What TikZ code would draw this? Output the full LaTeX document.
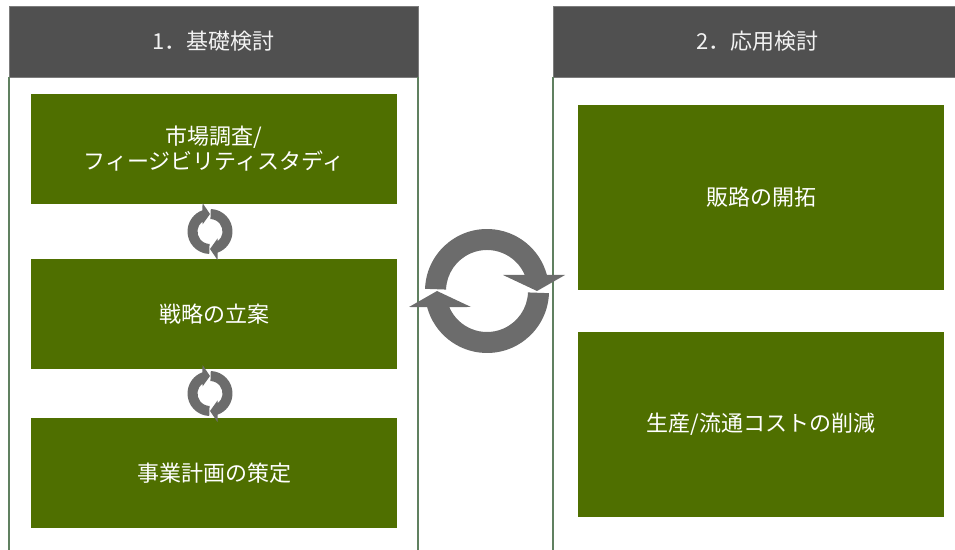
\documentclass[tikz,border=0pt]{standalone}
\usepackage{fontspec}
\setmainfont{Noto Sans CJK JP}
\usetikzlibrary{calc}
\definecolor{headgray}{RGB}{80,80,80}
\definecolor{stepgreen}{RGB}{79,111,0}
\definecolor{framegreen}{RGB}{96,128,96}
\definecolor{cyclegray}{RGB}{108,108,108}
\newcommand{\unitpx}{0.75pt}
\newcommand{\smallcycle}[1]{
  \begin{scope}[shift={(#1)},rotate=90]
    \foreach \r in {0,180}
      \fill[cyclegray,rotate=\r] (178:22.5) arc[start angle=178,end angle=19.5,radius=22.5]
        -- (28.5,7.5) -- (17.5,0) -- (7,7.5) -- (36.9:12.5)
        arc[start angle=36.9,end angle=178,radius=12.5] -- cycle;
  \end{scope}
}
\tikzset{
  headbox/.style={fill=headgray, draw=headgray!75!white, text=white!95!black,
                  minimum width=409*\unitpx, minimum height=71*\unitpx, inner sep=0pt},
  stepbox/.style={fill=stepgreen, text=white, align=center, inner sep=0pt,
                  minimum width=366*\unitpx, minimum height=110*\unitpx},
  bigstep/.style={stepbox, minimum height=185*\unitpx},
  frameline/.style={draw=framegreen, line width=2*\unitpx}
}

\begin{document}
\begin{tikzpicture}[x=\unitpx,y=\unitpx,font=\fontsize{16.5}{18.75}\selectfont]
	\useasboundingbox (0,0) rectangle (955,549);
	\clip (0,0) rectangle (955,549);
	% panels
	\node[headbox] (H1) at (213.5,507.5) {1．基礎検討};
	\node[headbox] (H2) at (757.5,507.5) {2．応用検討};
	\draw[frameline] (H1.south west) -- (H1.south west |- 0,-5);
	\draw[frameline] (H1.south east) -- (H1.south east |- 0,-5);
	\draw[frameline] (H2.south west) -- (H2.south west |- 0,-5);
	\draw[frameline] (H2.south east) -- (H2.south east |- 0,-5);
	% steps
	\node[stepbox] (S1) at (214,400) {市場調査/\\フィージビリティスタディ};
	\node[stepbox] (S2) at (214,235) {戦略の立案};
	\node[stepbox] (S3) at (214,76) {事業計画の策定};
	\node[bigstep] (R1) at (761,351.5) {販路の開拓};
	\node[bigstep] (R2) at (761,124.5) {生産/流通コストの削減};
	% cycles
	\coordinate (C1) at ($(S1.south)!0.5!(S2.north)+(-4,0)$);
	\coordinate (C2) at ($(S2.south)!0.5!(S3.north)+(-4,0)$);
	\coordinate (C0) at (487,258);
	\smallcycle{C1}
	\smallcycle{C2}
	\begin{scope}[shift={(C0)}]
		\foreach \r in {0,180}
			\fill[cyclegray,rotate=\r] (178:62) arc[start angle=178,end angle=15,radius=62]
				-- (78,16) -- (50,0) -- (16,16) -- (23:41)
				arc[start angle=23,end angle=178,radius=41] -- cycle;
	\end{scope}
\end{tikzpicture}
\end{document}
